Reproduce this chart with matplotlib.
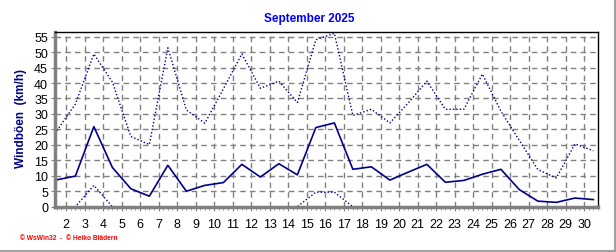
import matplotlib.pyplot as plt
import numpy as np
from matplotlib.lines import Line2D

plt.rcParams['font.family'] = ['Liberation Sans', 'DejaVu Sans']

# Tagesmitte 1.5 .. 30.5
days = np.arange(1, 31) + 0.5
boe_max = [24.6, 33.2, 49.4, 40.3, 22.7, 20.1, 51.4, 31.3, 27.0, 38.1,
           49.4, 38.3, 40.6, 33.7, 54.0, 56.1, 29.5, 31.5, 27.1, 33.6,
           40.6, 31.5, 31.5, 42.9, 30.9, 21.4, 12.0, 9.3, 20.3, 18.1]
boe_mittel = [8.7, 9.9, 25.9, 12.7, 5.8, 3.4, 13.4, 5.0, 6.9, 7.8,
              13.7, 9.6, 13.9, 10.3, 25.6, 27.1, 12.1, 12.9, 8.6, 11.2,
              13.7, 7.9, 8.5, 10.5, 12.1, 5.5, 1.8, 1.4, 2.8, 2.3]
boe_min = [0, 0, 6.9, 0, 0, 0, 0, 0, 0, 0,
           0, 0, 0, 0, 4.7, 4.7, 0, 0, 0, 0,
           0, 0, 0, 0, 0, 0, 0, 0, 0, 0]
x_labels = list(range(2, 31))
y_ticks = list(range(0, 60, 5))

navy = '#00008B'

fig = plt.figure(figsize=(6.16, 2.53), dpi=100)
ax = fig.add_axes([55 / 616, 1 - 207.7 / 253, 543 / 616, 174.7 / 253])

ax.plot(days, boe_max, color=navy, lw=1.0, ls=(0, (1, 1.5)))
ax.plot(days, boe_mittel, color=navy, lw=1.2)
ax.plot(days, boe_min, color=navy, lw=1.0, ls=(0, (1, 1.5)))

ax.set_xlim(1.4, 30.75)
ax.set_ylim(0, 56.5)
ax.set_xticks(x_labels)
ax.set_xticks(np.arange(1.5, 30.8, 0.25), minor=True)
ax.set_yticks(y_ticks)
ax.grid(True, which='major', color='#808080', ls=(0, (4, 3)), lw=1.0)
ax.tick_params(axis='both', which='major', labelsize=9, length=3, color='#808080', pad=2)
ax.tick_params(axis='x', which='major', pad=5)
ax.tick_params(axis='x', which='minor', length=2, color='#808080')

for s in ['left', 'bottom']:
    ax.spines[s].set_color('#808080')
    ax.spines[s].set_linewidth(2.5)
for s in ['top', 'right']:
    ax.spines[s].set_color('black')
    ax.spines[s].set_linewidth(1.0)

ax.set_ylabel('Windböen  (km/h)', color=navy, fontsize=8.5, fontweight='bold')
ax.yaxis.set_label_coords(-0.052, 0.51)
fig.text(0.5016, 1 - 19 / 253, 'September 2025', color='#0000FF', fontsize=8.5,
         fontweight='bold', ha='center', va='center')
fig.text(20 / 616, 1 - 239 / 253, '© WsWin32  -  © Heiko Blädern', color='red',
         fontsize=4.8, fontweight='bold', ha='left', va='center')

# grauer Rahmen rechts und unten
fig.add_artist(Line2D([614.5 / 616, 614.5 / 616], [1 - 251 / 253, 1], color='#A0A0A0', lw=1.5))
fig.add_artist(Line2D([0, 615 / 616], [1 - 251.5 / 253, 1 - 251.5 / 253], color='#A0A0A0', lw=1.5))

fig.savefig('out.png', dpi=100)
